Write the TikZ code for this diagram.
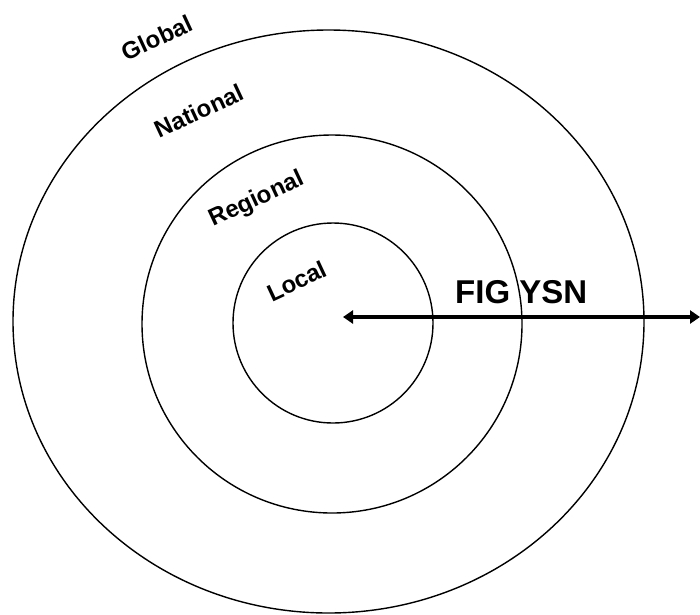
\documentclass[tikz,border=0pt]{standalone}
\usepackage{fontspec}
\setmainfont{Liberation Sans}
\usetikzlibrary{arrows.meta}
\tikzset{>={Triangle[length=10pt,width=13pt]}}
\tikzset{ring/.style={line width=1.4pt},
  ringlabel/.style={font=\bfseries\fontsize{24}{24}\selectfont,rotate=25,inner sep=0pt}}

\begin{document}
\begin{tikzpicture}[x=1pt,y=-1pt]
    \useasboundingbox (0,0) rectangle (700,614);
    \foreach \cx/\cy/\rx/\ry in {333/323/100/100,332/324/190/189,328.5/321.5/315.5/291.5} {
        \draw[ring] (\cx,\cy) ellipse [x radius=\rx, y radius=\ry];
      }
    \node[ringlabel] (global) at (157,38) {Global};
    \node[ringlabel] (national) at (199,111) {National};
    \node[ringlabel] (regional) at (257,200) {Regional};
    \node[ringlabel] (local) at (297,281) {Local};
    \coordinate (hub) at (343,317);
    \coordinate (rim) at (700,317);
    \draw[<->,line width=3.2pt] (hub) -- (rim);
    \node[anchor=base west,inner sep=0pt,font=\bfseries\fontsize{33}{33}\selectfont] (tag) at (455,303) {FIG YSN};
  \end{tikzpicture}
\end{document}
